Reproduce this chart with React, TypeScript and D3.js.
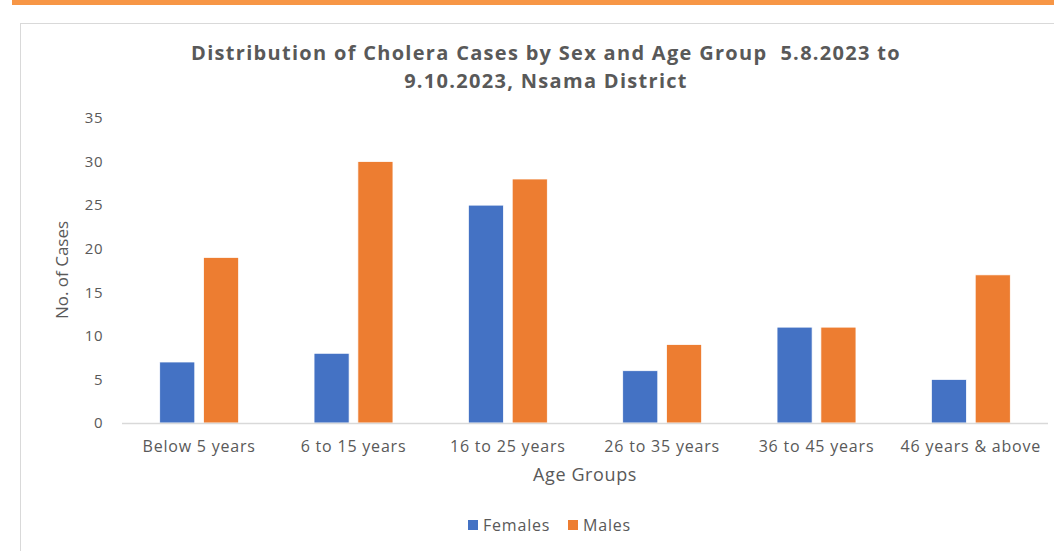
import React, { useRef, useEffect } from "react";
import * as d3 from "d3";

const categories = ["Below 5 years", "6 to 15 years", "16 to 25 years", "26 to 35 years", "36 to 45 years", "46 years & above"];
const seriesNames = ["Females", "Males"];
const females = [7, 8, 25, 6, 11, 5];
const males = [19, 30, 28, 9, 11, 17];
const yTicks = [0, 5, 10, 15, 20, 25, 30, 35];
const colors = ["#4472C4", "#ED7D31"];

const width = 1054;
const height = 551;
const font = "'Open Sans', sans-serif";
const textColor = "#595959";

const App: React.FC = () => {
  const ref = useRef<SVGSVGElement | null>(null);

  useEffect(() => {
    if (!ref.current) return;
    const svg = d3.select(ref.current);
    svg.selectAll("*").remove();

    // top orange strip and chart frame
    svg.append("rect").attr("x", 12).attr("y", 0).attr("width", width - 12).attr("height", 5).attr("fill", "#F79646");
    svg.append("rect").attr("x", 20.5).attr("y", 23.5).attr("width", width).attr("height", height)
      .attr("fill", "#fff").attr("stroke", "#d9d9d9");

    const x0 = d3.scaleBand<string>().domain(categories).range([122, 1048]);
    const x1 = d3.scaleBand<string>().domain(seriesNames).range([0, x0.bandwidth()])
      .paddingInner(0.2).paddingOuter(0.86);
    const y = d3.scaleLinear().domain([0, 35]).range([423, 118]);

    // y tick labels
    svg.append("g").selectAll("text").data(yTicks).join("text")
      .attr("x", 103).attr("y", (d) => y(d)).attr("dy", "0.35em")
      .attr("text-anchor", "end").attr("font-family", font).attr("font-size", 15)
      .attr("letter-spacing", 0.5).attr("fill", textColor).text((d) => d);

    const rows = categories.map((c, i) => ({ cat: c, values: [females[i], males[i]] }));

    const groups = svg.append("g").selectAll("g").data(rows).join("g")
      .attr("transform", (d) => `translate(${x0(d.cat)},0)`);
    groups.selectAll("rect").data((d) => d.values.map((v, j) => ({ key: seriesNames[j], v, j })))
      .join("rect")
      .attr("x", (d) => x1(d.key)!)
      .attr("y", (d) => y(d.v))
      .attr("width", x1.bandwidth())
      .attr("height", (d) => y(0) - y(d.v))
      .attr("fill", (d) => colors[d.j])
      .attr("stroke", "#fff").attr("stroke-width", 0.75);

    // baseline
    svg.append("line").attr("x1", 122).attr("x2", 1048).attr("y1", y(0) + 0.5).attr("y2", y(0) + 0.5)
      .attr("stroke", "#d9d9d9").attr("stroke-width", 1.5);

    // x labels
    svg.append("g").selectAll("text").data(categories).join("text")
      .attr("x", (d) => x0(d)! + x0.bandwidth() / 2).attr("y", 452)
      .attr("text-anchor", "middle").attr("font-family", font).attr("font-size", 16)
      .attr("letter-spacing", 0.8).attr("fill", textColor).text((d) => d);

    // axis titles
    svg.append("text").attr("x", 585).attr("y", 481).attr("text-anchor", "middle")
      .attr("font-family", font).attr("font-size", 18).attr("letter-spacing", 0.6)
      .attr("fill", textColor).text("Age Groups");
    svg.append("text").attr("transform", "translate(68,270) rotate(-90)").attr("text-anchor", "middle")
      .attr("font-family", font).attr("font-size", 17).attr("fill", textColor).text("No. of Cases");

    // title
    const title = svg.append("text").attr("text-anchor", "middle").attr("font-family", font)
      .attr("font-size", 20).attr("font-weight", "bold").attr("letter-spacing", 1.3).attr("fill", textColor);
    title.append("tspan").attr("x", 546).attr("y", 60).attr("xml:space", "preserve")
      .text("Distribution of Cholera Cases by Sex and Age Group  5.8.2023 to");
    title.append("tspan").attr("x", 546).attr("y", 88).text("9.10.2023, Nsama District");

    // legend
    const legendX = [468, 568];
    const legend = svg.append("g").selectAll("g").data(seriesNames).join("g")
      .attr("transform", (d, i) => `translate(${legendX[i]},520)`);
    legend.append("rect").attr("width", 10).attr("height", 10).attr("fill", (d, i) => colors[i]);
    legend.append("text").attr("x", 15).attr("y", 5).attr("dy", "0.35em")
      .attr("font-family", font).attr("font-size", 16).attr("letter-spacing", 0.8)
      .attr("fill", textColor).text((d) => d);
  }, []);

  return (
    <svg ref={ref} width={width} height={height}
      style={{ position: "absolute", left: 0, top: 0, background: "#fff" }} />
  );
};

export default App;
